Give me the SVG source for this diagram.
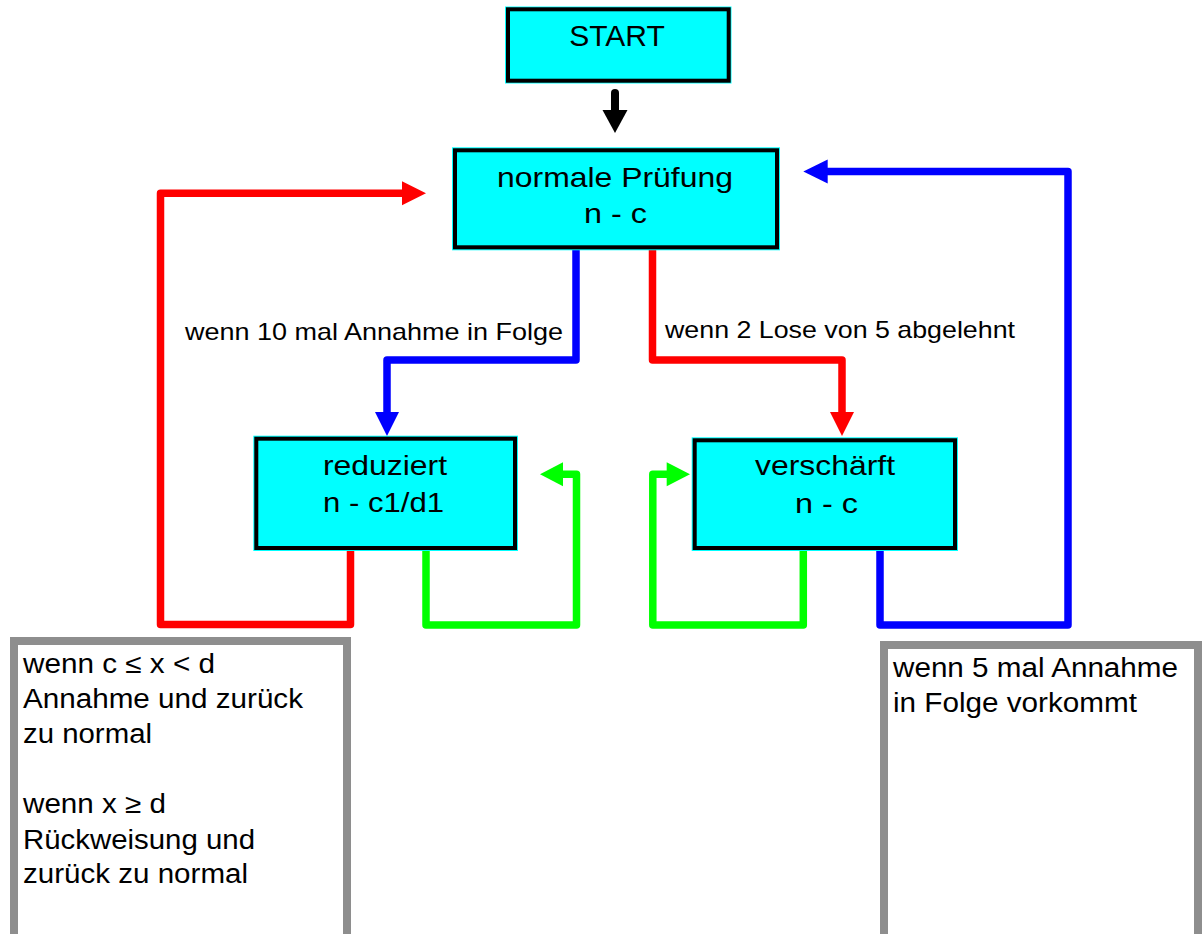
<svg xmlns="http://www.w3.org/2000/svg" width="1202" height="934" viewBox="0 0 1202 934">
  <style>
    text { font-family: "Liberation Sans", Arial, sans-serif; fill: #000; }
    .box-fill { fill: #00ffff; }
    .box-edge { fill: none; stroke: #000; stroke-width: 4; }
    .title { font-size: 30px; text-anchor: middle; }
    .state { font-size: 28px; }
    .label { font-size: 24px; }
    .note { font-size: 27px; }
    .note-frame { fill: #fff; stroke: #8e8e8e; stroke-width: 8; }
    .wire { fill: none; stroke-width: 7.5; stroke-linejoin: round; stroke-linecap: butt; }
    .red { stroke: #ff0000; }
    .blue { stroke: #0000ff; }
    .green { stroke: #00ff00; }
  </style>

  <rect width="1202" height="934" fill="#ffffff"/>

  <!-- connectors -->
  <g id="connectors">
    <!-- START -> normale Pruefung -->
    <g id="c-start">
      <line x1="615" y1="93" x2="615" y2="112" stroke="#000" stroke-width="8" stroke-linecap="round"/>
      <polygon points="602.5,110 627.5,110 615,133" fill="#000"/>
    </g>
    <!-- normale -> reduziert -->
    <g id="c-normal-reduced">
      <path class="wire blue" d="M576,249 V360 H387 V414"/>
      <polygon points="375,412 399,412 387,436" fill="#0000ff"/>
    </g>
    <!-- normale -> verschaerft -->
    <g id="c-normal-tight">
      <path class="wire red" d="M652.5,249 V360 H842 V414"/>
      <polygon points="830,412 854,412 842,436" fill="#ff0000"/>
    </g>
    <!-- reduziert -> normale -->
    <g id="c-reduced-normal">
      <path class="wire red" d="M350.5,550 V624.5 H160.5 V193.3 H404"/>
      <polygon points="402,181.3 402,205.3 426,193.3" fill="#ff0000"/>
    </g>
    <!-- reduziert self loop -->
    <g id="c-reduced-loop">
      <path class="wire green" d="M426,550 V625 H576.5 V474.3 H561"/>
      <polygon points="563,462.3 563,486.3 540,474.3" fill="#00ff00"/>
    </g>
    <!-- verschaerft self loop -->
    <g id="c-tight-loop">
      <path class="wire green" d="M803.3,550 V625 H652.8 V474.3 H668"/>
      <polygon points="666.7,462.3 666.7,486.3 690,474.3" fill="#00ff00"/>
    </g>
    <!-- verschaerft -> normale -->
    <g id="c-tight-normal">
      <path class="wire blue" d="M880,550 V625 H1068 V171.5 H826"/>
      <polygon points="827.7,159.5 827.7,183.5 803.3,171.5" fill="#0000ff"/>
    </g>
  </g>

  <!-- START -->
  <g id="n-start">
    <rect class="box-fill" x="505" y="6.5" width="226.5" height="77"/>
    <rect class="box-edge" x="508" y="9.3" width="220.7" height="71.4"/>
    <text class="title" x="617" y="46">START</text>
  </g>

  <!-- normale Pruefung -->
  <g id="n-normal">
    <rect class="box-fill" x="452" y="147.3" width="328" height="103"/>
    <rect class="box-edge" x="455" y="150.3" width="322" height="97"/>
    <text class="state" x="497" y="187" textLength="236" lengthAdjust="spacingAndGlyphs">normale Prüfung</text>
    <text class="state" x="584" y="223" textLength="63" lengthAdjust="spacingAndGlyphs">n - c</text>
  </g>

  <!-- reduziert -->
  <g id="n-reduced">
    <rect class="box-fill" x="253.3" y="435.7" width="264.7" height="115.3"/>
    <rect class="box-edge" x="256.3" y="438.7" width="258.7" height="109.3"/>
    <text class="state" x="323" y="475" textLength="124" lengthAdjust="spacingAndGlyphs">reduziert</text>
    <text class="state" x="323" y="512" textLength="121" lengthAdjust="spacingAndGlyphs">n - c1/d1</text>
  </g>

  <!-- verschaerft -->
  <g id="n-tight">
    <rect class="box-fill" x="691.7" y="437.3" width="266.3" height="113.7"/>
    <rect class="box-edge" x="694.7" y="440.3" width="260.3" height="107.7"/>
    <text class="state" x="755" y="475" textLength="140" lengthAdjust="spacingAndGlyphs">verschärft</text>
    <text class="state" x="795" y="513" textLength="63" lengthAdjust="spacingAndGlyphs">n - c</text>
  </g>

  <!-- transition labels -->
  <g id="l-reduce">
    <text class="label" x="185" y="340" textLength="378" lengthAdjust="spacingAndGlyphs">wenn 10 mal Annahme in Folge</text>
  </g>
  <g id="l-tighten">
    <text class="label" x="665" y="338" textLength="350" lengthAdjust="spacingAndGlyphs">wenn 2 Lose von 5 abgelehnt</text>
  </g>

  <!-- note: return from reduziert -->
  <g id="note-reduced">
    <rect class="note-frame" x="14" y="641" width="333" height="400"/>
    <text class="note" x="23" y="673" textLength="192" lengthAdjust="spacingAndGlyphs">wenn c ≤ x &lt; d</text>
    <text class="note" x="23" y="708" textLength="280" lengthAdjust="spacingAndGlyphs">Annahme und zurück</text>
    <text class="note" x="23" y="743" textLength="129" lengthAdjust="spacingAndGlyphs">zu normal</text>
    <text class="note" x="23" y="813" textLength="143" lengthAdjust="spacingAndGlyphs">wenn x ≥ d</text>
    <text class="note" x="23" y="849" textLength="232" lengthAdjust="spacingAndGlyphs">Rückweisung und</text>
    <text class="note" x="23" y="883" textLength="225" lengthAdjust="spacingAndGlyphs">zurück zu normal</text>
  </g>

  <!-- note: return from verschaerft -->
  <g id="note-tight">
    <rect class="note-frame" x="884" y="645" width="314" height="400"/>
    <text class="note" x="893" y="677" textLength="285" lengthAdjust="spacingAndGlyphs">wenn 5 mal Annahme</text>
    <text class="note" x="893" y="712" textLength="244" lengthAdjust="spacingAndGlyphs">in Folge vorkommt</text>
  </g>
</svg>
